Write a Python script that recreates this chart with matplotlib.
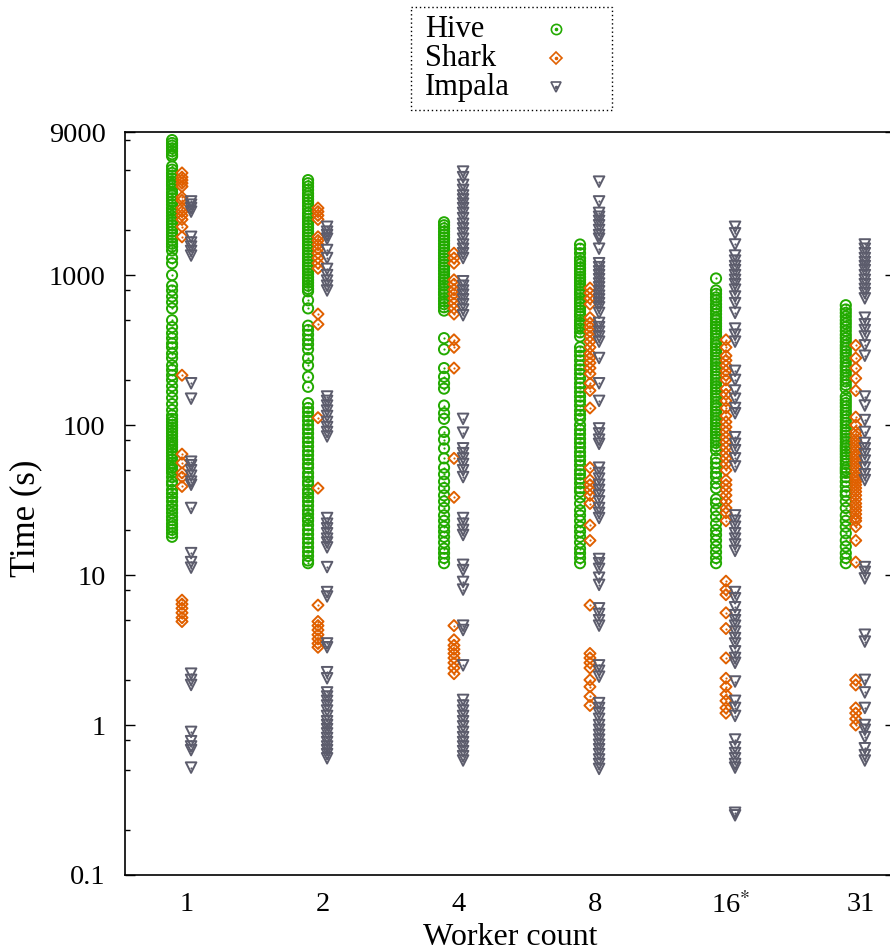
import numpy as np
import matplotlib
matplotlib.use('Agg')
import matplotlib.pyplot as plt
from matplotlib.patches import Rectangle

plt.rcParams['font.family'] = ['Liberation Serif', 'DejaVu Serif']
plt.rcParams['mathtext.fontset'] = 'stix'

workers = [1, 2, 4, 8, 16, 31]
worker_labels = ['1', '2', '4', '8', '16$^{*}$', '31']

# query times (s) per worker count
hive = [
    [7950, 7600, 7300, 7000, 6700, 6400, 6200,
     5300, 5050, 4800, 4600, 4400, 4200, 4050,
     3950, 3750, 3550, 3400, 3250, 3100, 2950, 2800, 2700,
     2600, 2480, 2360, 2250, 2150, 2050, 1950, 1860, 1780, 1700, 1620,
     1550, 1460, 1300, 1200, 1000, 850, 790, 720, 660, 600,
     500, 450, 410, 380, 350, 330, 300, 280, 250, 233, 215, 200, 182, 167, 152,
     138, 126, 116, 110, 105, 100, 96, 92, 88, 84, 80, 77, 74, 71, 68, 65, 62,
     59, 56, 54, 52, 50, 48, 45, 42, 40, 37, 35, 33, 31, 29, 27.5, 26, 24.5,
     23.3, 22, 21, 20, 19, 18],
    [4300, 4100, 3900, 3700, 3500, 3350, 3200, 3050, 2900, 2750, 2600, 2480,
     2360, 2250, 2150, 2050, 1950, 1860, 1780, 1700, 1620, 1550, 1480, 1410,
     1350, 1290, 1230, 1170, 1120, 1070, 1020, 970, 930, 890, 850, 810, 780,
     680, 600, 460, 430, 400, 370, 345, 320, 280, 250,
     210, 180, 140, 130, 122, 114, 107, 100, 94, 88, 82, 77, 72, 67, 63, 59, 55,
     52, 48, 45, 42, 40, 37, 35, 33, 31, 29, 27, 25.5, 24, 23, 21.5, 20, 18.7,
     17.5, 16.4, 15.3, 14.3, 13.4, 12.5, 12],
    [2250, 2150, 2050, 1950, 1860, 1780, 1700, 1620, 1550, 1480, 1410, 1350,
     1290, 1230, 1170, 1120, 1070, 1020, 970, 930, 890, 850, 810, 770, 740, 700,
     670, 640, 610, 580, 380, 320, 240, 210, 190, 175, 135, 120, 110, 90, 80,
     70, 60, 52, 47, 42, 38, 34, 31, 28, 25, 23, 21, 19.5, 18, 16.5, 15, 14, 13,
     12],
    [1600, 1500, 1400, 1300, 1240, 1180, 1120, 1070, 1020, 970, 930, 890, 850,
     810, 770, 740, 700, 670, 640, 610, 580, 550, 530, 500, 480, 460, 440, 415,
     390, 330, 310, 290, 270, 250, 235, 220, 205, 190, 178, 166, 155, 145, 135,
     125, 117, 110, 100, 93, 87, 81, 76, 71, 66, 62, 58, 54, 50, 47, 44, 41, 38,
     36, 33, 30, 27, 25, 23, 21, 19.5, 18, 16.5, 15, 14, 13, 12],
    [950, 790, 750, 710, 680, 640, 610, 580, 550, 520, 500, 475, 455, 435, 415,
     395, 375, 355, 340, 325, 310, 295, 280, 268, 255, 243, 232, 220, 210, 200,
     190, 181, 173, 165, 157, 150, 142, 135, 129, 123, 117, 111, 106, 101, 96,
     92, 88, 84, 80, 76, 72, 68, 60, 56, 52, 48, 45, 41, 38, 32, 30, 27,
     24.5, 22, 20, 18.5, 17, 15.5, 14.2, 13, 12],
    [630, 590, 560, 530, 500, 475, 450, 425, 400, 380, 360, 340, 325, 310, 295,
     280, 265, 250, 240, 228, 216, 205, 195, 185, 175, 155, 147, 140, 133, 126,
     120, 114, 108, 103, 98, 93, 89, 85, 81, 77, 73, 70, 67, 64, 61, 58, 55, 52,
     50, 48, 45, 42, 39, 36, 34, 31, 28, 25, 23, 21, 19, 17, 15.5, 14, 13, 12],
]

shark = [
    [4800, 4500, 4300, 4100, 3900, 3300, 3150, 2800, 2650, 2500, 2350, 2100,
     1800, 215, 64, 56, 48, 45, 39, 6.8, 6.4, 6.0, 5.6, 5.2, 4.9],
    [2800, 2650, 2500, 2350, 1800, 1700, 1600, 1500, 1400, 1300, 1200, 1110,
     550, 470, 112, 38, 6.3, 4.9, 4.6, 4.3, 4.0, 3.75, 3.5, 3.3],
    [1400, 1300, 1200, 930, 870, 800, 750, 700, 650, 600, 550, 370, 330, 240,
     60, 33, 4.6, 3.7, 3.4, 3.2, 3.0, 2.8, 2.6, 2.4, 2.2],
    [820, 760, 700, 640, 520, 480, 450, 420, 390, 360, 330, 300, 280, 260, 240,
     220, 190, 170, 130, 52, 43, 40, 37, 34, 30, 21.5, 17, 6.3, 3.0, 2.8, 2.6,
     2.4, 2.0, 1.8, 1.55, 1.35],
    [370, 330, 290, 270, 250, 230, 215, 200, 175, 160, 145, 130, 115, 105, 97,
     90, 83, 77, 71, 65, 60, 55, 50, 43, 40, 37, 34, 31, 28, 26, 23, 9.1, 8.0,
     7.4, 5.6, 4.4, 2.8, 2.05, 1.8, 1.6, 1.45, 1.3, 1.2],
    [340, 280, 240, 205, 170, 113, 100, 90, 85, 80, 76, 72, 68, 64, 61, 58, 55,
     52, 49, 46, 44, 42, 40, 38, 36, 34, 32, 30, 28.5, 27, 25.5, 24, 23, 21,
     17, 12.2, 2.0, 1.85, 1.3, 1.2, 1.1, 1.0],
]

impala = [
    [3100, 2950, 2800, 2650, 1800, 1650, 1550, 1450, 1350, 190, 150, 57, 54,
     50, 46, 42, 40, 28, 14, 12.2, 11.2, 2.2, 2.0, 1.85, 0.9, 0.78, 0.72,
     0.68, 0.52],
    [2100, 1950, 1850, 1750, 1470, 1300, 1100, 1000, 920, 850, 790, 155, 145,
     135, 125, 115, 105, 97, 90, 84, 24, 22, 20.5, 19, 17.5, 16.5, 15.3, 11.3,
     7.7, 7.2, 3.5, 3.3, 2.25, 2.05, 1.65, 1.55, 1.45, 1.35, 1.25, 1.15, 1.06,
     1.0, 0.94, 0.88, 0.82, 0.77, 0.72, 0.68, 0.64, 0.6],
    [4900, 4500, 4000, 3700, 3400, 3200, 3000, 2800, 2600, 2400, 2200, 2050,
     1900, 1750, 1600, 1500, 1400, 1300, 910, 850, 790, 740, 690, 640, 590,
     540, 110, 89, 70, 65, 60, 55, 50, 45, 24, 22, 20, 18.5, 11.7, 10.8, 9.0,
     8.0, 4.6, 4.3, 2.5, 1.47, 1.35, 1.25, 1.15, 1.06, 0.98, 0.9, 0.83, 0.77,
     0.72, 0.67, 0.62, 0.58],
    [4200, 3100, 2600, 2450, 2300, 2150, 2000, 1850, 1750, 1500, 1200, 1130,
     1060, 1000, 940, 880, 830, 780, 730, 690, 650, 610, 560, 480, 450, 420,
     390, 360, 280, 190, 145, 95, 88, 80, 75, 52, 48, 44, 40, 37, 34, 31, 28,
     26, 24, 12.8, 12, 11, 9.6, 8.6, 6.0, 5.5, 5.0, 4.6, 2.5, 2.3, 2.1, 1.4,
     1.3, 1.2, 1.1, 1.0, 0.93, 0.86, 0.8, 0.74, 0.69, 0.64, 0.59, 0.55, 0.51],
    [2100, 1900, 1600, 1350, 1250, 1150, 1080, 1000, 930, 870, 800, 720, 650,
     560, 440, 400, 360, 230, 200, 170, 150, 130, 120, 83, 75, 68, 60, 53, 25,
     23, 21, 19, 17.5, 16, 14.5, 7.7, 7.0, 6.1, 5.4, 5.0, 4.6, 4.2, 3.8, 3.5,
     3.1, 2.8, 2.6, 1.95, 1.45, 1.3, 1.15, 0.8, 0.71, 0.65, 0.6, 0.55, 0.52,
     0.26, 0.25],
    [1600, 1500, 1400, 1300, 1220, 1150, 1080, 1000, 930, 870, 810, 760, 700,
     520, 470, 430, 390, 340, 290, 155, 135, 108, 90, 76, 70, 64, 58, 52, 47,
     43, 11.3, 10.5, 9.5, 4.0, 3.6, 2.0, 1.65, 1.3, 1.0, 0.93, 0.83, 0.7,
     0.63, 0.58],
]

series = [
    ('Hive', hive, '#22aa00', 'o', 54, -0.11),
    ('Shark', shark, '#e06000', 'D', 32, -0.037),
    ('Impala', impala, '#5c5c6c', 'v', 58, 0.03),
]

fig = plt.figure(figsize=(8.9, 9.51), dpi=100)
ax = fig.add_axes([125 / 890, 1 - 875 / 951, 770 / 890, (875 - 132) / 951])

xpos = np.log2(workers)
for name, data, color, marker, size, offset in series:
    xs = np.concatenate([np.full(len(d), x + offset) for x, d in zip(xpos, data)])
    ys = np.concatenate([np.array(d, dtype=float) for d in data])
    ax.scatter(xs, ys, marker=marker, s=size, facecolors='none',
               edgecolors=color, linewidths=1.4, zorder=3)
    ax.scatter(xs, ys, marker='o', s=2.5, color=color, linewidths=0, zorder=4)

ax.set_yscale('log')
ax.set_ylim(0.1, 9000)
ax.set_xlim(-0.456, 5.206)
ax.set_yticks([0.1, 1, 10, 100, 1000, 9000])
ax.set_yticklabels(['0.1', '1', '10', '100', '1000', '9000'])
minor = [m * 10.0 ** k for k in range(-1, 4) for m in (2, 5, 8)]
ax.set_yticks([v for v in minor if v < 9000], minor=True)
ax.yaxis.set_minor_formatter(matplotlib.ticker.NullFormatter())
ax.tick_params(axis='y', which='major', direction='in', length=7, width=1,
               right=True, labelsize=20.5, pad=14)
ax.tick_params(axis='y', which='minor', direction='in', length=3.5, width=1,
               right=True)
ax.set_xticks(xpos)
ax.set_xticklabels(worker_labels)
ax.tick_params(axis='x', length=0, labelsize=20.5, pad=12)
for s in ax.spines.values():
    s.set_linewidth(1.2)

ax.set_xlabel('Worker count', fontsize=23, labelpad=3)
ax.set_ylabel('Time (s)', fontsize=25)
ax.yaxis.set_label_coords(-0.108, 0.48)

# key box drawn in pixel coordinates, text first then marker
key = fig.add_axes([0, 0, 1, 1], zorder=5)
key.set_xlim(0, 890)
key.set_ylim(951, 0)
key.axis('off')
key.add_patch(Rectangle((411, 7), 201, 103, fill=False, ec='black',
                        ls=(0, (1, 2)), lw=1.0))
for i, (name, data, color, marker, size, offset) in enumerate(series):
    key.text(425, 37 + 29 * i, name, fontsize=22, va='baseline', ha='left')
    key.plot([556], [29 + 29 * i], ls='none', marker=marker, ms=np.sqrt(size),
             mfc='none', mec=color, mew=1.2)
    key.plot([556], [29 + 29 * i], ls='none', marker='o', ms=1.6,
             mfc=color, mec=color)

fig.savefig('out.png', dpi=100)
